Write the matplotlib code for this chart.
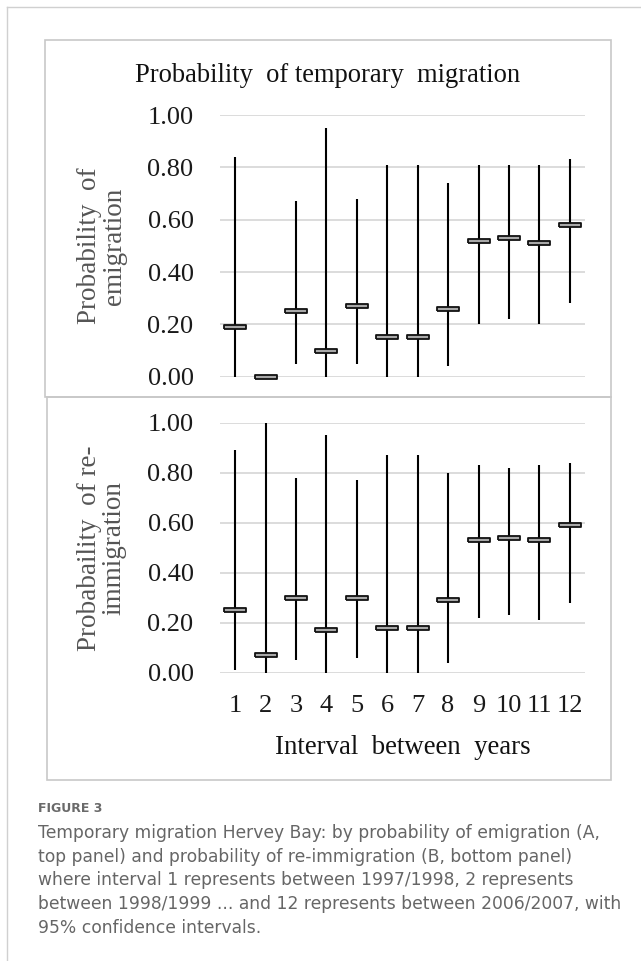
import matplotlib
matplotlib.use('Agg')
import matplotlib.pyplot as plt
from matplotlib.patches import Rectangle
from matplotlib.lines import Line2D

# interval between years
intervals = list(range(1, 13))
tick_labels = [str(i) for i in intervals]

# top panel - probability of emigration
emig_mean = [0.19, 0.00, 0.25, 0.10, 0.27, 0.15, 0.15, 0.26, 0.52, 0.53, 0.51, 0.58]
emig_low = [0.00, 0.00, 0.05, 0.00, 0.05, 0.00, 0.00, 0.04, 0.20, 0.22, 0.20, 0.28]
emig_high = [0.84, 0.00, 0.67, 0.95, 0.68, 0.81, 0.81, 0.74, 0.81, 0.81, 0.81, 0.83]

# bottom panel - probability of re-immigration
reimm_mean = [0.25, 0.07, 0.30, 0.17, 0.30, 0.18, 0.18, 0.29, 0.53, 0.54, 0.53, 0.59]
reimm_low = [0.01, 0.00, 0.05, 0.00, 0.06, 0.00, 0.00, 0.04, 0.22, 0.23, 0.21, 0.28]
reimm_high = [0.89, 1.00, 0.78, 0.95, 0.77, 0.87, 0.87, 0.80, 0.83, 0.82, 0.83, 0.84]

y_ticks = [0.0, 0.2, 0.4, 0.6, 0.8, 1.0]
y_tick_labels = ['0.00', '0.20', '0.40', '0.60', '0.80', '1.00']

caption_head = 'FIGURE 3'
caption_lines = [
    'Temporary migration Hervey Bay: by probability of emigration (A,',
    'top panel) and probability of re-immigration (B, bottom panel)',
    'where interval 1 represents between 1997/1998, 2 represents',
    'between 1998/1999 ... and 12 represents between 2006/2007, with',
    '95% confidence intervals.',
]

W, H = 641, 961
SERIF = 'Liberation Serif'
fig = plt.figure(figsize=(W / 100, H / 100), dpi=100)


def fx(px):
    return px / W


def fy(py):
    return 1 - py / H


# flat rectangle marker for the point estimate
rect_marker = [(-1, -0.14), (1, -0.14), (1, 0.14), (-1, 0.14), (-1, -0.14)]


def draw_panel(ax, mean, low, high, show_x):
    ax.set_xlim(0.5, 12.5)
    ax.set_ylim(0, 1)
    for t in y_ticks:
        ax.axhline(t, color='#d9d9d9', lw=1.3, zorder=0)
    ax.vlines(intervals, low, high, color='black', lw=1.5, zorder=2, clip_on=False)
    ax.plot(intervals, mean, ls='none', marker=rect_marker, markersize=15.5,
            markerfacecolor='#a8a8a8', markeredgecolor='#111111', markeredgewidth=1.3,
            zorder=3, clip_on=False)
    for s in ax.spines.values():
        s.set_visible(False)
    ax.set_yticks(y_ticks)
    ax.set_yticklabels(y_tick_labels, fontsize=19, family=SERIF, color='#1a1a1a')
    ax.tick_params(axis='y', length=0, pad=19)
    ax.set_xticks(intervals)
    if show_x:
        ax.set_xticklabels(tick_labels, fontsize=19, family=SERIF, color='#1a1a1a')
        ax.tick_params(axis='x', length=0, pad=16)
    else:
        ax.set_xticklabels([])
        ax.tick_params(axis='x', length=0)


ax1 = fig.add_axes([fx(220), fy(376.7), fx(365), (376.7 - 115) / H])
draw_panel(ax1, emig_mean, emig_low, emig_high, False)

ax2 = fig.add_axes([fx(220), fy(672.7), fx(365), (672.7 - 422.7) / H])
draw_panel(ax2, reimm_mean, reimm_low, reimm_high, True)

# panel boxes
box_col = '#c8c8c8'
fig.patches.append(Rectangle((fx(45), fy(397)), fx(566), (397 - 40) / H, transform=fig.transFigure,
                             fill=False, edgecolor=box_col, lw=1.2))
fig.patches.append(Rectangle((fx(46.5), fy(780)), fx(564.5), (780 - 397) / H, transform=fig.transFigure,
                             fill=False, edgecolor=box_col, lw=1.2))

# outer page frame
fig.lines.append(Line2D([fx(6.5), 1], [fy(6.5), fy(6.5)], transform=fig.transFigure, color='#d0d0d0', lw=1.0))
fig.lines.append(Line2D([fx(6.5), fx(6.5)], [fy(6.5), 0], transform=fig.transFigure, color='#d0d0d0', lw=1.0))

# titles and axis labels
fig.text(fx(328), fy(76), 'Probability  of temporary  migration', ha='center', va='center',
         fontsize=19.1, family=SERIF, color='#111111')
fig.text(fx(403), fy(748), 'Interval  between  years', ha='center', va='center',
         fontsize=19.3, family=SERIF, color='#111111')
fig.text(fx(102), fy(246), 'Probability  of\nemigration', ha='center', va='center', rotation=90,
         fontsize=19.5, family=SERIF, color='#555555', linespacing=0.95)
fig.text(fx(102), fy(548), 'Probabaility  of re-\nimmigration', ha='center', va='center', rotation=90,
         fontsize=19.5, family=SERIF, color='#555555', linespacing=0.95)

# caption
fig.text(fx(38), fy(809), caption_head, ha='left', va='center', fontsize=9, family='DejaVu Sans',
         fontweight='bold', color='#6a6a6a')
for i, line in enumerate(caption_lines):
    fig.text(fx(38), fy(833 + 23.7 * i), line, ha='left', va='center', fontsize=12.3,
             family='DejaVu Sans', color='#666666')

plt.savefig('out.png', dpi=100)
plt.close()
